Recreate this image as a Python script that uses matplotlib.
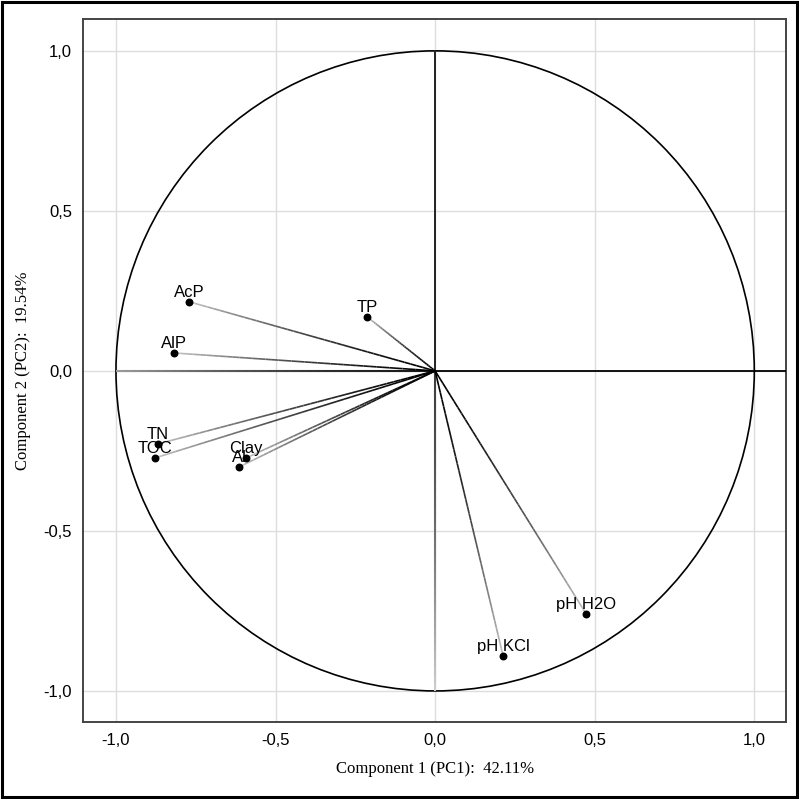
import numpy as np
import matplotlib
matplotlib.use("Agg")
import matplotlib.pyplot as plt
from matplotlib import collections as mc
from matplotlib.patches import Circle, Rectangle
from matplotlib.ticker import FuncFormatter

variables = ["AcP", "AlP", "TP", "TN", "TOC", "Clay", "Al", "pH H2O", "pH KCl"]
pc1 = [-0.771, -0.818, -0.213, -0.868, -0.878, -0.592, -0.614, 0.473, 0.213]
pc2 = [0.216, 0.056, 0.169, -0.228, -0.272, -0.272, -0.300, -0.759, -0.891]

xlabel = "Component 1 (PC1):  42.11%"
ylabel = "Component 2 (PC2):  19.54%"
ticks = [-1.0, -0.5, 0.0, 0.5, 1.0]


def gradient_segments(p0, p1, c0, c1, n=40):
    """Split a line into short pieces going from grey c0 to grey c1"""
    t = np.linspace(0, 1, n + 1)
    xs = p0[0] + (p1[0] - p0[0]) * t
    ys = p0[1] + (p1[1] - p0[1]) * t
    segs = [((xs[i], ys[i]), (xs[i + 1], ys[i + 1])) for i in range(n)]
    g = c0 + (c1 - c0) * np.linspace(0, 1, n) ** 1.6
    colors = [(v, v, v) for v in g]
    return segs, colors


fig = plt.figure(figsize=(7.99, 7.99), dpi=100)
ax = fig.add_axes([0.104, 0.0964, 0.880, 0.880])

ax.set_xlim(-1.103, 1.100)
ax.set_ylim(-1.097, 1.100)
ax.set_xticks(ticks)
ax.set_yticks(ticks)
fmt = FuncFormatter(lambda v, p: f"{v:.1f}".replace(".", ","))
ax.xaxis.set_major_formatter(fmt)
ax.yaxis.set_major_formatter(fmt)
ax.grid(True, color="#dddddd", lw=1.0, zorder=0)
ax.set_axisbelow(True)
ax.tick_params(length=0, labelsize=12, pad=8)
for lab in ax.get_xticklabels() + ax.get_yticklabels():
    lab.set_family("Liberation Sans")
for sp in ax.spines.values():
    sp.set_color("#444444")
    sp.set_linewidth(1.4)

ax.set_xlabel(xlabel, family="Liberation Serif", fontsize=12, labelpad=9)
ax.set_ylabel(ylabel, family="Liberation Serif", fontsize=12, labelpad=9)

# unit circle
ax.add_patch(Circle((0, 0), 1.0, fill=False, ec="black", lw=1.2, zorder=2))

# reference axes through the origin
segs, cols = [], []
s, c = gradient_segments((0, 0), (-1.0, 0), 0.1, 0.6)
segs += s; cols += c
s, c = gradient_segments((0, 0), (0, -1.0), 0.25, 0.8)
segs += s; cols += c
ax.add_collection(mc.LineCollection(segs, colors=cols, linewidths=1.5, zorder=3))
ax.plot([0, 1.1], [0, 0], color="black", lw=1.3, zorder=3)
ax.plot([0, 0], [0, 1.0], color="#222222", lw=1.4, zorder=3)

# loading vectors
segs, cols = [], []
for x, y in zip(pc1, pc2):
    s, c = gradient_segments((0, 0), (x, y), 0.0, 0.75)
    segs += s
    cols += c
ax.add_collection(mc.LineCollection(segs, colors=cols, linewidths=1.2, zorder=4))

ax.scatter(pc1, pc2, s=22, color="black", zorder=5)
for name, x, y in zip(variables, pc1, pc2):
    ax.annotate(name, (x, y), xytext=(0, 7), textcoords="offset points",
                ha="center", va="center", fontsize=12,
                family="Liberation Sans", zorder=6)

# outer frame round the whole picture
fig.patches.append(Rectangle((0.002, 0.002), 0.996, 0.996, transform=fig.transFigure,
                             fill=False, ec="black", lw=2.2))

fig.savefig("out.png", dpi=100)
